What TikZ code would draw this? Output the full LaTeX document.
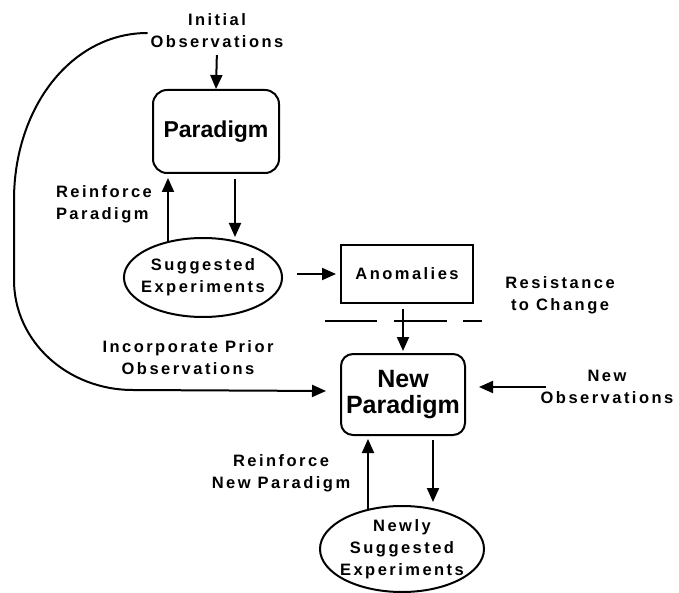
\documentclass[tikz,border=0pt]{standalone}
\usepackage{fontspec}
\setmainfont{Liberation Sans}
\newfontfamily\lblfont[LetterSpace=15]{Liberation Sans}
\usetikzlibrary{arrows.meta,shapes.geometric,calc}

\begin{document}
\begin{tikzpicture}[x=1pt, y=-1pt, line width=2pt,
    >={Triangle[length=14pt,width=12pt]},
    lbl/.style={font=\lblfont\bfseries\fontsize{16.5}{22}\selectfont, align=center, inner sep=0pt},
    pbox/.style={draw, rounded corners=14pt, align=center},
    ebox/.style={draw, ellipse, lbl}]
    \useasboundingbox (0,0) rectangle (679,593);

    % Boxes
    \node[pbox, minimum width=126pt, minimum height=83pt, font=\bfseries\fontsize{23}{24}\selectfont] (par) at (216,131.5) {Paradigm};
    \node[draw, lbl, minimum width=132pt, minimum height=58pt] (anom) at (407,274) {Anomalies};
    \node[pbox, rounded corners=12pt, minimum width=124pt, minimum height=81pt, font=\bfseries\fontsize{25}{25.5}\selectfont] (npar) at (403,394.5) {New\\Paradigm};

    % Ellipses
    \node[ebox, minimum width=150pt, minimum height=79pt, inner sep=-6pt] (sug) at (203,277.5) {Suggested\\Experiments};
    \node[ebox, minimum width=164pt, minimum height=86pt, inner sep=-12pt] (nsug) at (402,549) {Newly\\Suggested\\Experiments};

    % Labels
    \node[lbl] (init) at (217,31) {Initial\\Observations};
    \node[lbl, align=left, anchor=west] (reinf) at (55,204) {Reinforce\\Paradigm};
    \node[lbl] (resist) at (560,295) {Resistance\\to Change};
    \node[lbl] (incorp) at (188,358) {Incorporate Prior\\Observations};
    \node[lbl] (nobs) at (607,387) {New\\Observations};
    \node[lbl] (nreinf) at (281,473) {Reinforce\\New Paradigm};

    % Arrows
    \draw[->, shorten <=6pt] (init.south) -- (par.north);
    \draw[->] ($(sug.north)+(-35,4)$) -- ($(par.south)+(-48,4)$);
    \draw[->] ($(par.south)+(19,5)$) -- ($(sug.north)+(32,0)$);
    \draw[->, shorten <=14pt, shorten >=4pt] (sug.east |- anom.west) -- (anom.west);
    \draw[->, shorten <=5pt, shorten >=2pt] (anom.south -| npar.north) -- (npar.north);
    \draw[->, shorten <=-6pt, shorten >=13pt] (nobs.west) -- (nobs.west -| npar.east);
    \draw[->] ($(nsug.north)+(-34,4)$) -- ($(npar.south)+(-35,3)$);
    \draw[->] ($(npar.south)+(30,4)$) -- ($(nsug.north)+(31,-3)$);

    % Long way round for prior observations
    \draw[->] ($(init.west)+(-2,2)$) .. controls (71,33) and (14,108) .. (14,200) -- (14,280)
        .. controls (14,341) and (67,390) .. (133,390) -- ($(npar.west)+(-14,-3.5)$);

    % Resistance barrier
    \draw[dash pattern=on 52pt off 17pt on 53pt off 16pt on 19pt off 20pt] (325,321) -- (482,321);
\end{tikzpicture}
\end{document}
